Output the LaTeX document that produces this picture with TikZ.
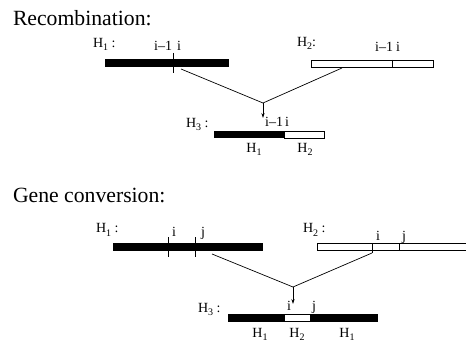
\documentclass[tikz,border=0pt]{standalone}
\usepackage{fontspec}
\setmainfont{Liberation Serif}
\usetikzlibrary{arrows.meta}
% haplotype name with a lowered index
\newcommand\hap[1]{H\raisebox{-3pt}{\fontsize{10}{10}\selectfont #1}}

\begin{document}
\begin{tikzpicture}[x=1pt,y=-1pt,
  every node/.style={inner sep=0pt, outer sep=0pt},
  heading/.style={font=\fontsize{21.7}{24}\selectfont, anchor=base west},
  lab/.style={font=\fontsize{14}{16}\selectfont, anchor=base west},
  labr/.style={font=\fontsize{14}{16}\selectfont, anchor=base east},
  labc/.style={font=\fontsize{14}{16}\selectfont, anchor=base},
  blackbar/.style={fill=black, anchor=north west},
  whitebar/.style={fill=white, draw=black, line width=0.8pt, anchor=north west},
  tick/.style={line width=0.9pt},
  conn/.style={line width=0.7pt},
  arr/.style={line width=0.7pt, -{Stealth[length=5pt,width=3.2pt]}}
]
\useasboundingbox (0,0) rectangle (466,342);

% ---------------- Recombination ----------------
\node[heading] (rtitle) at (13,26) {Recombination:};

% H1
\node[lab] (rh1) at (93,48) {\hap{1} :};
\node[blackbar, minimum width=124pt, minimum height=8pt] (rbar1) at (105,59) {};
\draw[tick] (173,53) -- (173,73);
\node[labr] (rh1a) at (172,51) {i–1};
\node[lab] (rh1b) at (177,51) {i};

% H2
\node[lab] (rh2) at (297,47) {\hap{2}:};
\node[whitebar, minimum width=122pt, minimum height=7pt] (rbar2) at (311,60) {};
\draw[tick] (392,60) -- (392,67);
\node[labr] (rh2a) at (393,52) {i–1};
\node[lab] (rh2b) at (396,52) {i};

% H3
\node[lab] (rh3) at (186,128) {\hap{3} :};
\node[blackbar, minimum width=110pt, minimum height=7.5pt] (rbar3) at (214,131) {};
\node[whitebar, minimum width=40pt, minimum height=7pt] (rbar3w) at (284,131.3) {};
\node[labr] (rh3a) at (283,127) {i–1};
\node[lab] (rh3b) at (285,127) {i};
\node[labc] (rh3c) at (254,153) {\hap{1}};
\node[labc] (rh3d) at (305,153) {\hap{2}};

% crossing lines and arrow
\coordinate (rs1) at (181,69);
\coordinate (rs2) at (342,68);
\coordinate (rv) at (263,103);
\coordinate (rt) at (263,118);
\draw[conn] (rs1) -- (rv);
\draw[conn] (rs2) -- (rv);
\draw[arr] (rv) -- (rt);

% ---------------- Gene conversion ----------------
\node[heading] (gtitle) at (13,202) {Gene conversion:};

% H1
\node[lab] (gh1) at (96,233) {\hap{1} :};
\node[blackbar, minimum width=150pt, minimum height=7.5pt] (gbar1) at (113,243) {};
\draw[tick] (168,237) -- (168,257);
\draw[tick] (195,237) -- (195,257);
\node[lab] (gh1i) at (172,236) {i};
\node[lab] (gh1j) at (201,236) {j};

% H2
\node[lab] (gh2) at (303,233) {\hap{2} :};
\node[whitebar, minimum width=160pt, minimum height=7pt] (gbar2) at (317,243) {};
\draw[tick] (372,243) -- (372,253);
\draw[tick] (399,243) -- (399,250);
\node[lab] (gh2i) at (376,240) {i};
\node[lab] (gh2j) at (402,240) {j};

% H3
\node[lab] (gh3) at (198,312) {\hap{3} :};
\node[blackbar, minimum width=150pt, minimum height=8pt] (gbar3) at (228,314) {};
\node[whitebar, minimum width=26pt, minimum height=6.5pt] (gbar3w) at (284,314.7) {};
\node[lab] (gh3i) at (287,310) {i};
\node[lab] (gh3j) at (312,310) {j};
\node[labc] (gh3a) at (260,337) {\hap{1}};
\node[labc] (gh3b) at (297,337) {\hap{2}};
\node[labc] (gh3c) at (347,337) {\hap{1}};

% crossing lines and arrow
\coordinate (gs1) at (212,254);
\coordinate (gs2) at (372,253);
\coordinate (gv) at (293,287);
\coordinate (gt) at (293,304);
\draw[conn] (gs1) -- (gv);
\draw[conn] (gs2) -- (gv);
\draw[arr] (gv) -- (gt);
\end{tikzpicture}
\end{document}
